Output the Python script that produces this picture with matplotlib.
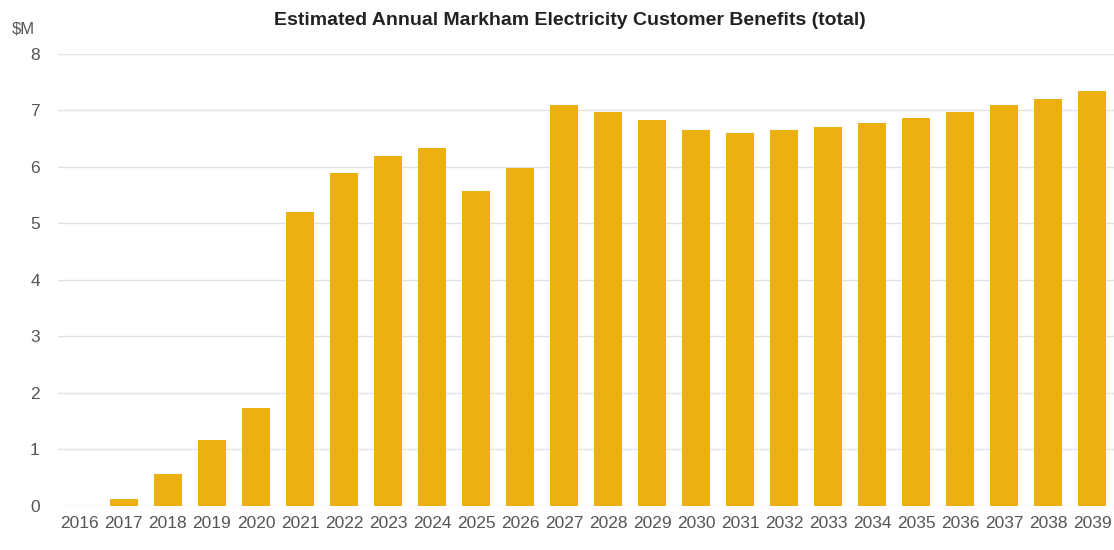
from matplotlib import pyplot as plt
from matplotlib import font_manager

# Annual customer benefits, $M
years = [str(y) for y in range(2016, 2040)]
benefits = [0.0, 0.12, 0.57, 1.16, 1.73, 5.2, 5.89, 6.19, 6.34, 5.58, 5.98, 7.10,
            6.98, 6.83, 6.65, 6.60, 6.65, 6.71, 6.78, 6.86, 6.97, 7.09, 7.20, 7.35]
y_ticks = [0, 1, 2, 3, 4, 5, 6, 7, 8]

# Prefer a narrow face like the original, fall back to plain Liberation Sans
names = {f.name for f in font_manager.fontManager.ttflist}
family = "Liberation Sans Narrow" if "Liberation Sans Narrow" in names else "Liberation Sans"
plt.rcParams["font.family"] = [family, "DejaVu Sans"]

bar_color = "#EDB013"
text_color = "#555555"

fig = plt.figure(figsize=(11.14, 5.5), dpi=100)
ax = fig.add_axes([0.052, 0.08, 0.948, 0.822])

ax.bar(years, benefits, width=0.65, color=bar_color, zorder=3)

ax.set_ylim(0, 8)
ax.set_xlim(-0.5, len(years) - 0.5)
ax.set_yticks(y_ticks)
ax.grid(True, axis="y", color="#E3E3E3", linewidth=1, zorder=0)
ax.set_axisbelow(True)
for side in ax.spines.values():
    side.set_visible(False)
ax.tick_params(axis="both", length=0, labelsize=12.5, colors=text_color)
ax.tick_params(axis="y", pad=13)
ax.tick_params(axis="x", pad=7)

fig.text(0.011, 0.948, "$M", fontsize=12, color=text_color, ha="left", va="center")
fig.text(0.512, 0.962, "Estimated Annual Markham Electricity Customer Benefits (total)",
         fontsize=14, fontweight="bold", color="#222222", ha="center", va="center")

fig.savefig("out.png", dpi=100)
